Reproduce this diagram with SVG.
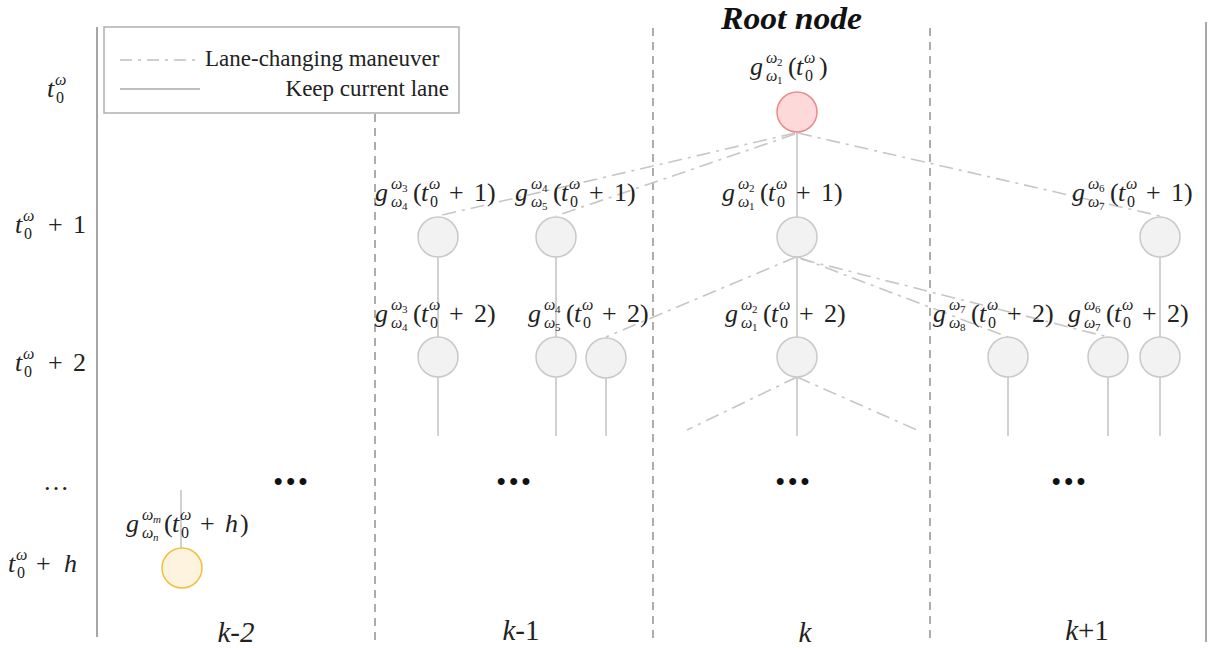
<svg xmlns="http://www.w3.org/2000/svg" width="1216" height="648" viewBox="0 0 1216 648">
<style>
.m{font-family:"Liberation Serif","Times New Roman",serif;font-size:26px;fill:#222}
.i{font-style:italic}
.s{font-size:16px}
.ss{font-size:11px}
.lg{font-family:"Liberation Serif",serif;font-size:23px;fill:#222}
.col{font-family:"Liberation Serif",serif;font-size:29px;fill:#222}
.dots{font-family:"Liberation Sans",sans-serif;font-size:24px;font-weight:bold;fill:#111;letter-spacing:4px}
.node{fill:#f2f2f2;stroke:#c9c9c9;stroke-width:1.5}
.solid{stroke:#c6c6c6;stroke-width:1.6;fill:none}
.dash{stroke:#c6c6c6;stroke-width:1.6;fill:none;stroke-dasharray:14,6,3,6}
.frame{stroke:#909090;stroke-width:1.6}
.lane{stroke:#8a8a8a;stroke-width:1.4;stroke-dasharray:8,6}
</style>

<g id="frame">
<line class="frame" x1="97" y1="27" x2="97" y2="637"/>
<line class="frame" x1="1206" y1="22" x2="1206" y2="642"/>
<line class="lane" x1="375" y1="114" x2="375" y2="640"/>
<line class="lane" x1="653" y1="28" x2="653" y2="640"/>
<line class="lane" x1="930" y1="28" x2="930" y2="640"/>
</g>

<g id="legend">
<rect x="104" y="27" width="355" height="86" fill="#fff" stroke="#aaa" stroke-width="1.4"/>
<line x1="120" y1="60" x2="195" y2="60" stroke="#c0c0c0" stroke-width="1.6" stroke-dasharray="12,6,3,6"/>
<text class="lg" x="205" y="66">Lane-changing maneuver</text>
<line x1="120" y1="89" x2="200" y2="89" stroke="#aaa" stroke-width="1.6"/>
<text class="lg" x="449" y="96" text-anchor="end">Keep current lane</text>
</g>

<g id="rows">
<text class="m"><tspan x="47" y="97" class="i">t</tspan><tspan x="55" y="85" class="s i">ω</tspan><tspan x="56" y="103" class="s">0</tspan></text>
<text class="m"><tspan x="15" y="233" class="i">t</tspan><tspan x="23" y="221" class="s i">ω</tspan><tspan x="24" y="239" class="s">0</tspan><tspan x="48" y="233">+</tspan><tspan x="73" y="233">1</tspan></text>
<text class="m"><tspan x="15" y="371" class="i">t</tspan><tspan x="23" y="359" class="s i">ω</tspan><tspan x="24" y="377" class="s">0</tspan><tspan x="48" y="371">+</tspan><tspan x="73" y="371">2</tspan></text>
<text class="m" x="43" y="490">…</text>
<text class="m"><tspan x="8" y="572" class="i">t</tspan><tspan x="16" y="560" class="s i">ω</tspan><tspan x="17" y="578" class="s">0</tspan><tspan x="36" y="572">+</tspan><tspan x="64" y="572" class="i">h</tspan></text>
</g>

<g id="columns">
<text class="col" x="236" y="642" text-anchor="middle"><tspan class="i">k</tspan><tspan class="i">-2</tspan></text>
<text class="col" x="521" y="640" text-anchor="middle"><tspan class="i">k</tspan>-1</text>
<text class="col" x="805" y="642" text-anchor="middle"><tspan class="i">k</tspan></text>
<text class="col" x="1087" y="640" text-anchor="middle"><tspan class="i">k</tspan>+1</text>
<text class="dots" x="274" y="489">•••</text>
<text class="dots" x="497" y="489">•••</text>
<text class="dots" x="776" y="489">•••</text>
<text class="dots" x="1052" y="489">•••</text>
</g>

<text id="root-title" x="721" y="29" textLength="141" lengthAdjust="spacingAndGlyphs" font-family="Liberation Serif, serif" font-size="31" font-weight="bold" font-style="italic" fill="#111">Root node</text>

<g id="connectors">
<line class="solid" x1="797" y1="132" x2="797" y2="217"/>
<line class="solid" x1="438" y1="257" x2="438" y2="337"/>
<line class="solid" x1="556" y1="257" x2="556" y2="337"/>
<line class="solid" x1="797" y1="257" x2="797" y2="337"/>
<line class="solid" x1="1160" y1="257" x2="1160" y2="337"/>
<line class="solid" x1="438" y1="377" x2="438" y2="436"/>
<line class="solid" x1="556" y1="377" x2="556" y2="436"/>
<line class="solid" x1="606" y1="377" x2="606" y2="436"/>
<line class="solid" x1="797" y1="377" x2="797" y2="436"/>
<line class="solid" x1="1008" y1="377" x2="1008" y2="436"/>
<line class="solid" x1="1108" y1="377" x2="1108" y2="436"/>
<line class="solid" x1="1160" y1="377" x2="1160" y2="436"/>
<line class="solid" x1="181" y1="490" x2="181" y2="548"/>
<line class="dash" x1="795" y1="133" x2="438" y2="216"/>
<line class="dash" x1="795" y1="134" x2="556" y2="216"/>
<line class="dash" x1="798" y1="133" x2="1160" y2="216"/>
<line class="dash" x1="796" y1="257" x2="606" y2="337"/>
<line class="dash" x1="798" y1="257" x2="1008" y2="337"/>
<line class="dash" x1="801" y1="259" x2="1108" y2="337"/>
<line class="dash" x1="797" y1="377" x2="687" y2="430"/>
<line class="dash" x1="797" y1="377" x2="917" y2="430"/>
</g>

<g id="n-root">
<circle cx="797" cy="112" r="20" fill="#fdd9d9" stroke="#eb8a8a" stroke-width="1.5"/>
<text class="m"><tspan x="750" y="75" class="i">g</tspan><tspan x="766" y="63" class="s i">ω</tspan><tspan x="777" y="66" class="ss">2</tspan><tspan x="766" y="81" class="s i">ω</tspan><tspan x="777" y="84" class="ss">1</tspan><tspan x="788" y="75">(</tspan><tspan x="796" y="75" class="i">t</tspan><tspan x="804" y="63" class="s i">ω</tspan><tspan x="805" y="81" class="s">0</tspan><tspan x="819" y="75">)</tspan></text>
</g>

<g id="n-1a">
<circle class="node" cx="438" cy="237" r="20"/>
<text class="m"><tspan x="375" y="201" class="i">g</tspan><tspan x="391" y="189" class="s i">ω</tspan><tspan x="402" y="192" class="ss">3</tspan><tspan x="391" y="207" class="s i">ω</tspan><tspan x="402" y="210" class="ss">4</tspan><tspan x="413" y="201">(</tspan><tspan x="421" y="201" class="i">t</tspan><tspan x="429" y="189" class="s i">ω</tspan><tspan x="430" y="207" class="s">0</tspan><tspan x="449" y="201">+</tspan><tspan x="474" y="201">1</tspan><tspan x="487" y="201">)</tspan></text>
</g>

<g id="n-1b">
<circle class="node" cx="556" cy="237" r="20"/>
<text class="m"><tspan x="515" y="201" class="i">g</tspan><tspan x="531" y="189" class="s i">ω</tspan><tspan x="542" y="192" class="ss">4</tspan><tspan x="531" y="207" class="s i">ω</tspan><tspan x="542" y="210" class="ss">5</tspan><tspan x="553" y="201">(</tspan><tspan x="561" y="201" class="i">t</tspan><tspan x="569" y="189" class="s i">ω</tspan><tspan x="570" y="207" class="s">0</tspan><tspan x="589" y="201">+</tspan><tspan x="614" y="201">1</tspan><tspan x="627" y="201">)</tspan></text>
</g>

<g id="n-1c">
<circle class="node" cx="797" cy="237" r="20"/>
<text class="m"><tspan x="722" y="201" class="i">g</tspan><tspan x="738" y="189" class="s i">ω</tspan><tspan x="749" y="192" class="ss">2</tspan><tspan x="738" y="207" class="s i">ω</tspan><tspan x="749" y="210" class="ss">1</tspan><tspan x="760" y="201">(</tspan><tspan x="768" y="201" class="i">t</tspan><tspan x="776" y="189" class="s i">ω</tspan><tspan x="777" y="207" class="s">0</tspan><tspan x="796" y="201">+</tspan><tspan x="821" y="201">1</tspan><tspan x="834" y="201">)</tspan></text>
</g>

<g id="n-1d">
<circle class="node" cx="1160" cy="237" r="20"/>
<text class="m"><tspan x="1072" y="201" class="i">g</tspan><tspan x="1088" y="189" class="s i">ω</tspan><tspan x="1099" y="192" class="ss">6</tspan><tspan x="1088" y="207" class="s i">ω</tspan><tspan x="1099" y="210" class="ss">7</tspan><tspan x="1110" y="201">(</tspan><tspan x="1118" y="201" class="i">t</tspan><tspan x="1126" y="189" class="s i">ω</tspan><tspan x="1127" y="207" class="s">0</tspan><tspan x="1146" y="201">+</tspan><tspan x="1171" y="201">1</tspan><tspan x="1184" y="201">)</tspan></text>
</g>

<g id="n-2a">
<circle class="node" cx="438" cy="357" r="20"/>
<text class="m"><tspan x="375" y="322" class="i">g</tspan><tspan x="391" y="310" class="s i">ω</tspan><tspan x="402" y="313" class="ss">3</tspan><tspan x="391" y="328" class="s i">ω</tspan><tspan x="402" y="331" class="ss">4</tspan><tspan x="413" y="322">(</tspan><tspan x="421" y="322" class="i">t</tspan><tspan x="429" y="310" class="s i">ω</tspan><tspan x="430" y="328" class="s">0</tspan><tspan x="449" y="322">+</tspan><tspan x="474" y="322">2</tspan><tspan x="487" y="322">)</tspan></text>
</g>

<g id="n-2b">
<circle class="node" cx="556" cy="357" r="20"/>
<text class="m"><tspan x="528" y="322" class="i">g</tspan><tspan x="544" y="310" class="s i">ω</tspan><tspan x="555" y="313" class="ss">4</tspan><tspan x="544" y="328" class="s i">ω</tspan><tspan x="555" y="331" class="ss">5</tspan><tspan x="566" y="322">(</tspan><tspan x="574" y="322" class="i">t</tspan><tspan x="582" y="310" class="s i">ω</tspan><tspan x="583" y="328" class="s">0</tspan><tspan x="602" y="322">+</tspan><tspan x="627" y="322">2</tspan><tspan x="640" y="322">)</tspan></text>
</g>

<g id="n-2c">
<circle class="node" cx="606" cy="358" r="20"/>
</g>

<g id="n-2d">
<circle class="node" cx="797" cy="357" r="20"/>
<text class="m"><tspan x="725" y="322" class="i">g</tspan><tspan x="741" y="310" class="s i">ω</tspan><tspan x="752" y="313" class="ss">2</tspan><tspan x="741" y="328" class="s i">ω</tspan><tspan x="752" y="331" class="ss">1</tspan><tspan x="763" y="322">(</tspan><tspan x="771" y="322" class="i">t</tspan><tspan x="779" y="310" class="s i">ω</tspan><tspan x="780" y="328" class="s">0</tspan><tspan x="799" y="322">+</tspan><tspan x="824" y="322">2</tspan><tspan x="837" y="322">)</tspan></text>
</g>

<g id="n-2e">
<circle class="node" cx="1008" cy="357" r="20"/>
<text class="m"><tspan x="933" y="322" class="i">g</tspan><tspan x="949" y="310" class="s i">ω</tspan><tspan x="960" y="313" class="ss">7</tspan><tspan x="949" y="328" class="s i">ω</tspan><tspan x="960" y="331" class="ss">8</tspan><tspan x="971" y="322">(</tspan><tspan x="979" y="322" class="i">t</tspan><tspan x="987" y="310" class="s i">ω</tspan><tspan x="988" y="328" class="s">0</tspan><tspan x="1007" y="322">+</tspan><tspan x="1032" y="322">2</tspan><tspan x="1045" y="322">)</tspan></text>
</g>

<g id="n-2f">
<circle class="node" cx="1108" cy="357" r="20"/>
<text class="m"><tspan x="1068" y="322" class="i">g</tspan><tspan x="1084" y="310" class="s i">ω</tspan><tspan x="1095" y="313" class="ss">6</tspan><tspan x="1084" y="328" class="s i">ω</tspan><tspan x="1095" y="331" class="ss">7</tspan><tspan x="1106" y="322">(</tspan><tspan x="1114" y="322" class="i">t</tspan><tspan x="1122" y="310" class="s i">ω</tspan><tspan x="1123" y="328" class="s">0</tspan><tspan x="1142" y="322">+</tspan><tspan x="1167" y="322">2</tspan><tspan x="1180" y="322">)</tspan></text>
</g>

<g id="n-2g">
<circle class="node" cx="1160" cy="357" r="20"/>
</g>

<g id="n-h">
<circle cx="182" cy="568" r="20" fill="#fdf3de" stroke="#f3bf3c" stroke-width="1.5"/>
<text class="m"><tspan x="126" y="532" class="i">g</tspan><tspan x="142" y="520" class="s i">ω</tspan><tspan x="153" y="523" class="ss i">m</tspan><tspan x="142" y="538" class="s i">ω</tspan><tspan x="153" y="541" class="ss i">n</tspan><tspan x="164" y="532">(</tspan><tspan x="172" y="532" class="i">t</tspan><tspan x="180" y="520" class="s i">ω</tspan><tspan x="181" y="538" class="s">0</tspan><tspan x="200" y="532">+</tspan><tspan x="225" y="532" class="i">h</tspan><tspan x="240" y="532">)</tspan></text>
</g>
</svg>
